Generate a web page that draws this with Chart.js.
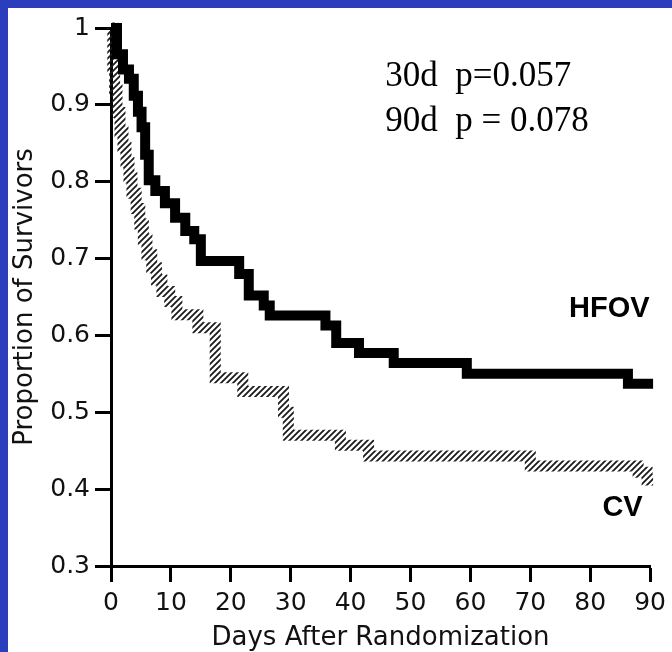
<!DOCTYPE html>
<html lang="en">
<head>
    <meta charset="UTF-8">
    <title>Survival HFOV vs CV</title>
    <script src="https://cdn.jsdelivr.net/npm/chart.js@4.4.1/dist/chart.umd.min.js"></script>
    <style>
        body { margin: 0; background: #2b3fbe; width: 672px; height: 652px; overflow: hidden; }
        #panel { position: absolute; left: 8px; top: 8px; width: 664px; height: 644px; background: #fff; }
    </style>
</head>
<body>
    <div id="panel"><canvas id="km" width="664" height="644"></canvas></div>
<script>
    // Kaplan-Meier steps (day of event, survival after it)
    const hfovDays = [0, 1, 2, 3, 3.8, 4.5, 5.1, 5.7, 6.3, 7.4, 9, 10.7, 12.4, 13.9, 15, 21.4, 23, 25.5, 26.5, 35.8, 37.6, 41.4, 47.2, 59.4, 86.3, 90.5];
    const hfovSurv = [1, 0.966, 0.946, 0.934, 0.912, 0.891, 0.871, 0.835, 0.802, 0.788, 0.772, 0.753, 0.736, 0.725, 0.697, 0.68, 0.652, 0.639, 0.626, 0.613, 0.59, 0.577, 0.564, 0.55, 0.537, 0.537];

    const cvDays = [0, 0.3, 0.6, 1.0, 1.5, 2.0, 2.5, 3.0, 3.5, 4.2, 4.8, 5.4, 6.0, 6.8, 7.6, 8.5, 9.8, 11, 14.5, 17.4, 22, 28.8, 29.6, 38.3, 43, 70, 88, 89.5, 90.5];
    const cvSurv = [1, 0.95, 0.92, 0.89, 0.865, 0.845, 0.825, 0.805, 0.785, 0.765, 0.745, 0.725, 0.705, 0.688, 0.672, 0.657, 0.644, 0.627, 0.61, 0.545, 0.527, 0.5, 0.47, 0.457, 0.443, 0.43, 0.422, 0.412, 0.412];

    const xTicks = [0, 10, 20, 30, 40, 50, 60, 70, 80, 90];
    const yTicks = [0.3, 0.4, 0.5, 0.6, 0.7, 0.8, 0.9, 1];

    const seriesNames = ['HFOV', 'CV'];
    const noteLines = ['30d  p=0.057', '90d  p = 0.078'];

    // where the text sits, in data units
    const nameAt = [{x: 83.2, y: 0.634}, {x: 85.4, y: 0.375}];
    const noteAt = [{x: 45.8, y: 0.925}, {x: 45.8, y: 0.866}];

    function toPoints(days, surv) {
        return days.map((d, i) => ({x: d, y: surv[i]}));
    }

    // diagonal hatching for the CV band
    function hatch() {
        const s = 6;
        const c = document.createElement('canvas');
        c.width = s; c.height = s;
        const g = c.getContext('2d');
        g.strokeStyle = '#1a1a1a';
        g.lineWidth = 1.8;
        g.beginPath();
        g.moveTo(0, s); g.lineTo(s, 0);
        g.moveTo(-1, 1); g.lineTo(1, -1);
        g.moveTo(s - 1, s + 1); g.lineTo(s + 1, s - 1);
        g.stroke();
        return g.createPattern(c, 'repeat');
    }

    const textPlugin = {
        id: 'texts',
        afterDatasetsDraw(chart) {
            const ctx = chart.ctx;
            const xs = chart.scales.x, ys = chart.scales.y;
            ctx.save();
            ctx.fillStyle = '#000';
            ctx.font = 'bold 29px "Liberation Sans", Arial, sans-serif';
            ctx.textAlign = 'center';
            ctx.textBaseline = 'middle';
            seriesNames.forEach((n, i) => {
                ctx.fillText(n, xs.getPixelForValue(nameAt[i].x), ys.getPixelForValue(nameAt[i].y));
            });
            ctx.font = '35px "Liberation Serif", "Times New Roman", serif';
            ctx.textAlign = 'left';
            ctx.textBaseline = 'alphabetic';
            noteLines.forEach((t, i) => {
                ctx.fillText(t, xs.getPixelForValue(noteAt[i].x), ys.getPixelForValue(noteAt[i].y));
            });
            ctx.restore();
        }
    };

    const ctx = document.getElementById('km').getContext('2d');
    new Chart(ctx, {
        type: 'line',
        data: {
            datasets: [{
                label: seriesNames[0],
                data: toPoints(hfovDays, hfovSurv),
                stepped: true,
                borderColor: '#000',
                borderWidth: 10,
                borderCapStyle: 'butt',
                borderJoinStyle: 'miter',
                pointRadius: 0,
                fill: false,
                clip: false
            }, {
                label: seriesNames[1],
                data: toPoints(cvDays, cvSurv),
                stepped: true,
                borderColor: hatch(),
                borderWidth: 11,
                borderCapStyle: 'butt',
                borderJoinStyle: 'miter',
                pointRadius: 0,
                fill: false,
                clip: false
            }]
        },
        options: {
            responsive: false,
            animation: false,
            devicePixelRatio: 1,
            layout: { padding: { top: 19, right: 17, left: 0, bottom: 0 } },
            plugins: { legend: { display: false }, tooltip: { enabled: false } },
            scales: {
                x: {
                    type: 'linear',
                    min: 0, max: 90,
                    afterBuildTicks: s => { s.ticks = xTicks.map(v => ({value: v})); },
                    afterFit: s => { s.height = 86; },
                    border: { color: '#000', width: 3 },
                    grid: { drawOnChartArea: false, tickLength: 16, tickWidth: 3, tickColor: '#000' },
                    ticks: {
                        color: '#111', padding: 6, maxRotation: 0,
                        font: { family: '"DejaVu Sans"', size: 25 }
                    },
                    title: {
                        display: true, text: 'Days After Randomization', color: '#111',
                        font: { family: '"DejaVu Sans"', size: 26, lineHeight: 1 },
                        padding: { top: 0, bottom: 1 }
                    }
                },
                y: {
                    min: 0.3, max: 1,
                    afterBuildTicks: s => { s.ticks = yTicks.map(v => ({value: v})); },
                    afterFit: s => { s.width = 103; },
                    border: { color: '#000', width: 3 },
                    grid: { drawOnChartArea: false, tickLength: 16, tickWidth: 3, tickColor: '#000' },
                    ticks: {
                        color: '#111', padding: 5,
                        font: { family: '"DejaVu Sans"', size: 25 },
                        callback: v => String(Math.round(v * 10) / 10)
                    },
                    title: {
                        display: true, text: 'Proportion of Survivors', color: '#111',
                        font: { family: '"DejaVu Sans"', size: 26 },
                        padding: { top: 2, bottom: 0 }
                    }
                }
            }
        },
        plugins: [textPlugin]
    });
</script>
</body>
</html>
